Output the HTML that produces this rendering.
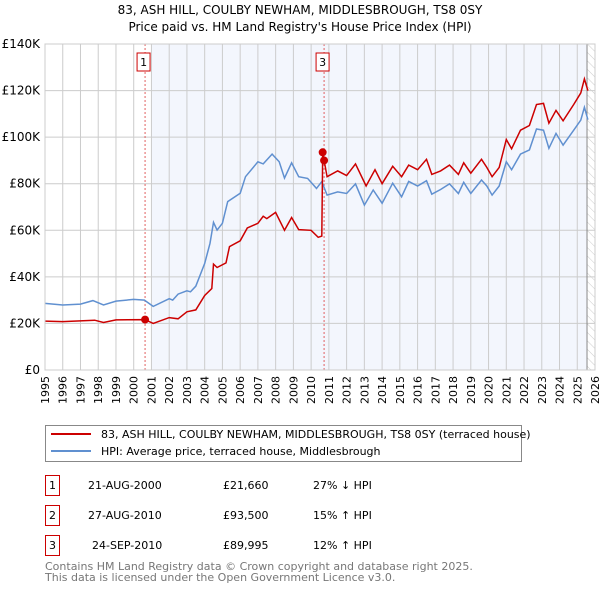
<!DOCTYPE html>
<html><head><meta charset="utf-8"><style>
body{margin:0;background:#fff;font-family:"Liberation Sans","DejaVu Sans",sans-serif}
svg text{font-family:"DejaVu Sans","Liberation Sans",sans-serif}
</style></head><body>
<svg id="c" width="600" height="590" xmlns="http://www.w3.org/2000/svg">
<defs><pattern id="hatch" width="6" height="6" patternUnits="userSpaceOnUse" patternTransform="rotate(-45)"><line x1="0" y1="0" x2="0" y2="6" stroke="#ccc" stroke-width="1"/></pattern></defs>
<text x="300" y="14" text-anchor="middle" font-size="12">83, ASH HILL, COULBY NEWHAM, MIDDLESBROUGH, TS8 0SY</text>
<text x="300" y="31" text-anchor="middle" font-size="12">Price paid vs. HM Land Registry's House Price Index (HPI)</text>
<g id="plot"></g>
<rect x="45.5" y="425.5" width="476" height="36" fill="#fff" stroke="#888"/>
<line x1="51" y1="434" x2="91" y2="434" stroke="#cc0000" stroke-width="2"/>
<text x="101" y="438" font-size="11">83, ASH HILL, COULBY NEWHAM, MIDDLESBROUGH, TS8 0SY (terraced house)</text>
<line x1="51" y1="451" x2="91" y2="451" stroke="#6090d0" stroke-width="2"/>
<text x="101" y="455" font-size="11">HPI: Average price, terraced house, Middlesbrough</text>
<g font-size="11">
<rect x="45.5" y="475.5" width="14" height="20" fill="#fff" stroke="#cc0000"/><text x="52.5" y="489" text-anchor="middle">1</text>
<text x="88" y="489">21-AUG-2000</text><text x="223" y="489">£21,660</text><text x="313" y="489">27% ↓ HPI</text>
<rect x="45.5" y="505.5" width="14" height="20" fill="#fff" stroke="#cc0000"/><text x="52.5" y="519" text-anchor="middle">2</text>
<text x="88" y="519">27-AUG-2010</text><text x="223" y="519">£93,500</text><text x="313" y="519">15% ↑ HPI</text>
<rect x="45.5" y="535.5" width="14" height="20" fill="#fff" stroke="#cc0000"/><text x="52.5" y="549" text-anchor="middle">3</text>
<text x="92" y="549">24-SEP-2010</text><text x="223" y="549">£89,995</text><text x="313" y="549">12% ↑ HPI</text>
</g>
<text x="45" y="570" font-size="11" fill="#777">Contains HM Land Registry data © Crown copyright and database right 2025.</text>
<text x="45" y="581" font-size="11" fill="#777">This data is licensed under the Open Government Licence v3.0.</text>
</svg>
<script>
const yTicks=[0,20,40,60,80,100,120,140];
const yTickLabels=["£0","£20K","£40K","£60K","£80K","£100K","£120K","£140K"];
const years=[1995,1996,1997,1998,1999,2000,2001,2002,2003,2004,2005,2006,2007,2008,2009,2010,2011,2012,2013,2014,2015,2016,2017,2018,2019,2020,2021,2022,2023,2024,2025,2026];
const hpiT=[1995,1996,1997,1997.7,1998.3,1999,2000,2000.6,2001.1,2002,2002.2,2002.5,2003,2003.2,2003.5,2004,2004.3,2004.5,2004.7,2005,2005.3,2006,2006.3,2007,2007.3,2007.8,2008.2,2008.5,2008.9,2009.3,2009.8,2010.3,2010.6,2010.9,2011.5,2012,2012.5,2013,2013.5,2014,2014.6,2015.1,2015.5,2016,2016.5,2016.8,2017.3,2017.8,2018.3,2018.6,2019,2019.6,2019.9,2020.2,2020.6,2021,2021.3,2021.8,2022.3,2022.7,2023.1,2023.4,2023.8,2024.2,2024.8,2025.2,2025.4,2025.6];
const hpiV=[28.6,27.9,28.3,29.8,27.9,29.6,30.3,30,27.3,30.6,30,32.6,34,33.6,36,45.8,54.4,63.4,60.1,63,72.3,75.9,83,89.4,88.5,92.7,89.4,82.4,89,83,82.3,78,80.9,75.1,76.5,75.8,79.9,70.8,77.3,71.6,80.2,74.4,81,79,81.3,75.5,77.5,79.9,75.8,80.6,75.8,81.6,79,75.1,79,89.4,86,92.7,94.5,103.5,103,95.2,101.6,96.6,103,107.3,112.8,107.5];
const propT=[1995,1996,1997.8,1998.3,1999,2000.64,2001.1,2002,2002.5,2003,2003.5,2004,2004.4,2004.5,2004.7,2005.2,2005.4,2006,2006.4,2007,2007.3,2007.5,2008,2008.5,2008.9,2009.3,2010,2010.4,2010.6,2010.65,2010.73,2010.9,2011.5,2012,2012.5,2013.1,2013.6,2014,2014.6,2015.1,2015.5,2016,2016.5,2016.8,2017.3,2017.8,2018.3,2018.6,2019,2019.6,2019.9,2020.2,2020.6,2021,2021.3,2021.8,2022.3,2022.7,2023.1,2023.4,2023.8,2024.2,2024.8,2025.2,2025.4,2025.6];
const propV=[21,20.8,21.4,20.4,21.5,21.66,20,22.5,22,25,25.8,32,35,45.5,44,46,53,55.5,61,63,66,65,67.7,60,65.5,60.3,60,57,57.5,93.5,89.995,83,85.5,83.5,88.5,79,86,80,87.5,83,88,86,90.5,84,85.5,88,84,89,84.5,90.5,87,83,87,99,95,103,105,114,114.5,106,111.5,107,114,119,125,120];
const saleT=[2000.64,2010.65,2010.73];
const saleV=[21.66,93.5,89.995];
const saleLabels=["1","2","3"];
const markerLabelsShown=[0,2];

const NS="http://www.w3.org/2000/svg";
const X0=45,X1=595,Y0=370,Y1=44;
const xs=t=>X0+(t-1995)/(2026-1995)*(X1-X0);
const ys=v=>Y0-v/140*(Y0-Y1);
const g=document.getElementById('plot');
function mk(tag,a){const e=document.createElementNS(NS,tag);for(const k in a)e.setAttribute(k,a[k]);g.appendChild(e);return e;}
let e;
e=mk('rect',{x:X0,y:Y1,width:X1-X0,height:Y0-Y1,fill:'#fff'});


e=mk('rect',{x:xs(2001),y:Y1,width:xs(2025.55)-xs(2001),height:Y0-Y1,fill:'#f3f6fd'});


e=mk('rect',{x:xs(2025.55),y:Y1,width:X1-xs(2025.55),height:Y0-Y1,fill:'url(#hatch)'});


years.forEach(y=>{const x=xs(y);
 e=mk('line',{x1:x,y1:Y1,x2:x,y2:Y0,stroke:'#ccc','stroke-width':1});
 
 
 e=mk('text',{x:0,y:0,'font-size':11,'text-anchor':'end',transform:`translate(${x+4},${Y0+6}) rotate(-90)`});
 e.textContent=y;
 
 
});
yTicks.forEach((v,i)=>{const y=ys(v);
 e=mk('line',{x1:X0,y1:y,x2:X1,y2:y,stroke:'#ccc','stroke-width':1});
 
 
 e=mk('text',{x:X0-5,y:y+4,'font-size':12,'text-anchor':'end'});
 e.textContent=yTickLabels[i];
 
 
});
e=mk('line',{x1:xs(2025.55),y1:Y1,x2:xs(2025.55),y2:Y0,stroke:'#888','stroke-width':1});


[0,2].forEach(i=>{const x=xs(saleT[i]);
 e=mk('line',{x1:x,y1:Y1,x2:x,y2:Y0,stroke:'#e06060','stroke-width':1,'stroke-dasharray':'2,2'});
 
 
});
const pts=(T,V)=>T.map((t,i)=>xs(t).toFixed(1)+','+ys(V[i]).toFixed(1)).join(' ');
e=mk('polyline',{points:pts(hpiT,hpiV),fill:'none',stroke:'#6090d0','stroke-width':1.5});


e=mk('polyline',{points:pts(propT,propV),fill:'none',stroke:'#cc0000','stroke-width':1.5});


saleT.forEach((t,i)=>{
 e=mk('circle',{cx:xs(t),cy:ys(saleV[i]),r:4,fill:'#cc0000'});
 
 
});
markerLabelsShown.forEach(i=>{const x=xs(saleT[i]);
 e=mk('rect',{x:x-8,y:53,width:13,height:18,fill:'#fff',stroke:'#cc0000'});
 
 
 e=mk('text',{x:x-1.5,y:66,'font-size':11,'text-anchor':'middle'});
 e.textContent=saleLabels[i];
 
 
});
e=mk('rect',{x:X0,y:Y1,width:X1-X0,height:Y0-Y1,fill:'none',stroke:'#ccc'});


</script>
</body></html>
